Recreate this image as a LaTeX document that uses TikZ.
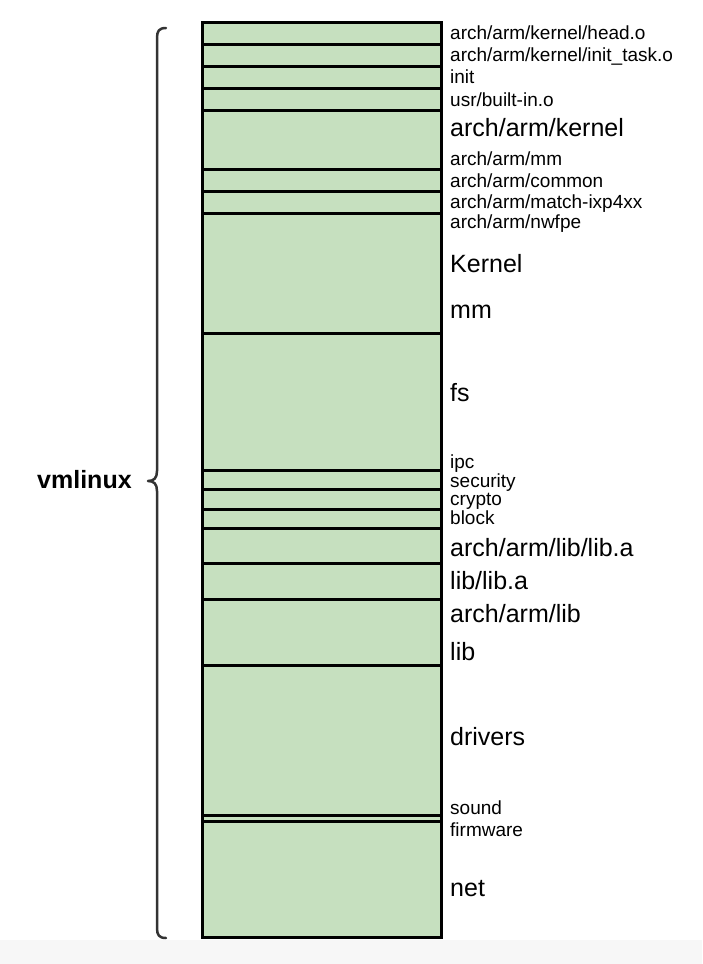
\documentclass[tikz,border=0pt]{standalone}
\usepackage{fontspec}
\setmainfont{Liberation Sans}
\definecolor{segfill}{HTML}{C6E0BF}
\definecolor{bracecol}{HTML}{333333}
\definecolor{bottomgray}{HTML}{F7F7F7}
\begin{document}
\begin{tikzpicture}[x=1pt,y=-1pt,
  small/.style={anchor=base west,inner sep=0pt,font=\fontsize{19}{19}\selectfont},
  large/.style={anchor=base west,inner sep=0pt,font=\fontsize{25}{25}\selectfont},
  segline/.style={line width=3pt,black},
  bracestyle/.style={line width=2.5pt,bracecol,line cap=round,line join=round}]
\useasboundingbox (0,0) rectangle (702,964);
\fill[white] (0,0) rectangle (702,964);
\fill[bottomgray] (0,940) rectangle (702,964);
% stack
\fill[segfill] (202.5,22) rectangle (441,937);
\foreach \yy in {44,66,88,110,169,191,213,333,470,489.5,509,528.5,563.5,599,665,815,821}
  \draw[segline] (202.5,\yy) -- (441,\yy);
\draw[segline] (202.5,22) rectangle (441,937);
% labels
\node[small] (l1) at (450,39) {arch/arm/kernel/head.o};
\node[small] (l2) at (450,61) {arch/arm/kernel/init\_task.o};
\node[small] (l3) at (450,83) {init};
\node[small] (l4) at (450,106) {usr/built-in.o};
\node[large] (l5) at (450,136) {arch/arm/kernel};
\node[small] (l6) at (450,165) {arch/arm/mm};
\node[small] (l7) at (450,187) {arch/arm/common};
\node[small] (l8) at (450,208) {arch/arm/match-ixp4xx};
\node[small] (l9) at (450,228) {arch/arm/nwfpe};
\node[large] (l10) at (450,272) {Kernel};
\node[large] (l11) at (450,318) {mm};
\node[large] (l12) at (450,401) {fs};
\node[small] (l13) at (450,468) {ipc};
\node[small] (l14) at (450,487) {security};
\node[small] (l15) at (450,505) {crypto};
\node[small] (l16) at (450,524) {block};
\node[large] (l17) at (450,556) {arch/arm/lib/lib.a};
\node[large] (l18) at (450,589) {lib/lib.a};
\node[large] (l19) at (450,622) {arch/arm/lib};
\node[large] (l20) at (450,660) {lib};
\node[large] (l21) at (450,745) {drivers};
\node[small] (l22) at (450,814) {sound};
\node[small] (l23) at (450,836) {firmware};
\node[large] (l24) at (450,896) {net};
% brace
\draw[bracestyle] (166,28) .. controls (159,28) and (157,31) .. (157,38)
  -- (157,471) .. controls (157,478) and (154,481) .. (148,481)
  .. controls (154,481) and (157,484) .. (157,491)
  -- (157,928) .. controls (157,935) and (159,938) .. (166,938);
\node[anchor=base west,inner sep=0pt,font=\fontsize{25}{25}\selectfont\bfseries] (vm) at (37,488) {vmlinux};
\end{tikzpicture}
\end{document}
